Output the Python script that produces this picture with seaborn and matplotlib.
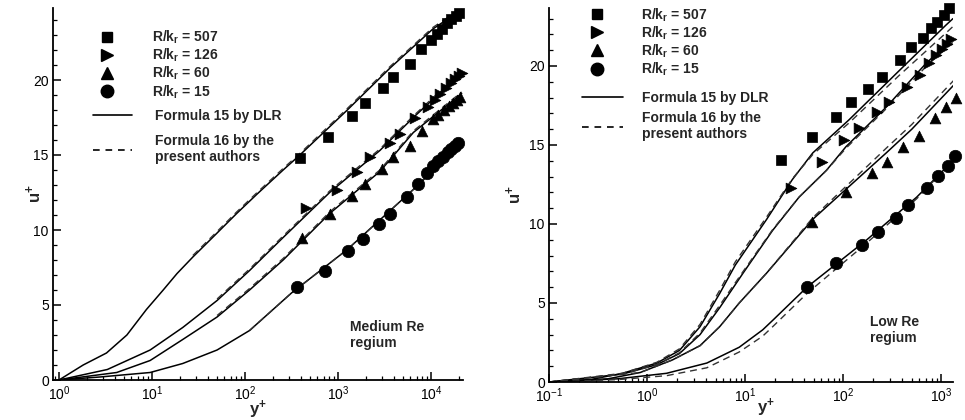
import matplotlib
matplotlib.use("Agg")
import numpy as np
import pandas as pd
import seaborn as sns
import matplotlib.pyplot as plt
from matplotlib.lines import Line2D
from matplotlib.ticker import MultipleLocator, LogLocator, NullFormatter

# ---------------- data ----------------
series_labels = ["R/k$_\\mathbf{r}$ = 507", "R/k$_\\mathbf{r}$ = 126",
                 "R/k$_\\mathbf{r}$ = 60", "R/k$_\\mathbf{r}$ = 15"]
series_markers = ["s", ">", "^", "o"]
line_labels = ["Formula 15 by DLR", "Formula 16 by the\npresent authors"]

# ---- Medium Re regium (left) : measured points ----
med_507_x = [389, 776, 1413, 1950, 3020, 3890, 5890, 7760, 10000, 11480, 13180, 14790, 16600, 18620, 19950]
med_507_y = [14.8, 16.2, 17.6, 18.5, 19.5, 20.2, 21.1, 22.1, 22.7, 23.1, 23.4, 23.8, 24.1, 24.3, 24.5]
med_126_x = [457, 977, 1585, 2188, 3631, 4677, 6761, 9333, 10960, 12590, 14450, 16220, 18200, 19950, 21380]
med_126_y = [11.5, 12.7, 13.9, 14.9, 15.8, 16.4, 17.5, 18.2, 18.7, 19.1, 19.5, 19.8, 20.1, 20.3, 20.5]
med_60_x = [407, 813, 1413, 1950, 2951, 3890, 5890, 7940, 10470, 12020, 13800, 15490, 17380, 19050, 20420]
med_60_y = [9.5, 11.1, 12.3, 13.1, 14.1, 14.9, 15.6, 16.6, 17.4, 17.7, 18.0, 18.3, 18.5, 18.7, 18.9]
med_15_x = [363, 724, 1288, 1862, 2754, 3631, 5495, 7244, 9120, 10470, 12020, 13490, 15140, 16600, 18200, 19500]
med_15_y = [6.2, 7.3, 8.6, 9.4, 10.4, 11.1, 12.2, 13.1, 13.8, 14.3, 14.6, 14.9, 15.2, 15.4, 15.6, 15.8]

# ---- Medium Re regium : Formula 15 (solid) ----
med_f15_507_x = [1.0, 1.82, 3.24, 5.37, 8.71, 13.2, 18.6, 27.5, 50.1, 81.3, 135, 257, 389, 1259, 3631, 10470, 21380]
med_f15_507_y = [0.0, 1.0, 1.8, 3.0, 4.7, 6.0, 7.1, 8.2, 9.8, 11.1, 12.4, 14.0, 15.0, 18.0, 20.8, 23.4, 24.7]
med_f15_126_x = [1.0, 3.31, 9.55, 21.4, 50.1, 112, 257, 813, 2818, 6457, 21380]
med_f15_126_y = [0.0, 0.7, 2.0, 3.5, 5.3, 7.3, 9.5, 12.5, 15.3, 17.5, 20.5]
med_f15_60_x = [1.0, 4.17, 9.55, 21.4, 50.1, 112, 257, 813, 2818, 6457, 21380]
med_f15_60_y = [0.0, 0.5, 1.3, 2.7, 4.2, 6.0, 8.0, 11.1, 13.9, 16.5, 19.1]
med_f15_15_x = [1.0, 2.75, 9.55, 21.4, 50.1, 112, 316, 1259, 6457, 20420]
med_f15_15_y = [0.0, 0.2, 0.5, 1.1, 2.0, 3.3, 5.8, 8.7, 12.7, 15.7]
# ---- Medium Re regium : Formula 16 (dashed) ----
med_f16_507_x = [27.5, 50.1, 81.3, 135, 257, 389, 1259, 3631, 10470, 21380]
med_f16_507_y = [8.3, 9.9, 11.2, 12.5, 14.1, 15.1, 18.1, 20.9, 23.5, 24.8]
med_f16_126_x = [50.1, 112, 257, 813, 2818, 6457, 21380]
med_f16_126_y = [5.4, 7.4, 9.6, 12.6, 15.4, 17.6, 20.6]
med_f16_60_x = [50.1, 112, 257, 813, 2818, 6457, 21380]
med_f16_60_y = [4.3, 6.1, 8.1, 11.2, 14.0, 16.6, 19.2]
med_f16_15_x = [112, 316, 1259, 6457, 20420]
med_f16_15_y = [3.3, 5.8, 8.7, 12.7, 15.7]

# ---- Low Re regium (right) : measured points ----
low_507_x = [23.4, 47.9, 85.1, 120, 178, 251, 380, 490, 646, 794, 912, 1072, 1202]
low_507_y = [14.05, 15.5, 16.8, 17.7, 18.55, 19.3, 20.4, 21.2, 21.8, 22.4, 22.8, 23.2, 23.7]
low_126_x = [29.5, 60.3, 102, 145, 219, 295, 447, 603, 759, 891, 1023, 1148, 1259]
low_126_y = [12.3, 13.9, 15.3, 16.1, 17.1, 17.7, 18.7, 19.4, 20.2, 20.7, 21.1, 21.4, 21.7]
low_60_x = [47.9, 107, 195, 282, 407, 589, 871, 1122, 1413]
low_60_y = [10.1, 12.0, 13.2, 13.9, 14.9, 15.6, 16.7, 17.4, 18.0]
low_15_x = [42.7, 85.1, 155, 224, 347, 457, 708, 933, 1175, 1380]
low_15_y = [6.0, 7.5, 8.7, 9.5, 10.4, 11.2, 12.3, 13.05, 13.65, 14.3]

# ---- Low Re regium : Formula 15 (solid) ----
low_f15_507_x = [0.1, 0.263, 0.562, 1.26, 2.14, 3.47, 5.50, 7.94, 16.6, 30.2, 49.0, 115, 372, 1122, 1318]
low_f15_507_y = [0.0, 0.15, 0.55, 1.2, 2.0, 3.5, 5.6, 7.4, 10.3, 12.8, 14.5, 16.6, 19.7, 22.6, 23.0]
low_f15_126_x = [0.1, 0.562, 1.26, 2.14, 3.47, 5.50, 9.55, 19.1, 35.5, 67.6, 107, 275, 708, 1318]
low_f15_126_y = [0.0, 0.5, 1.1, 1.8, 3.0, 4.7, 6.9, 9.6, 11.7, 13.4, 14.9, 17.4, 20.2, 21.7]
low_f15_60_x = [0.1, 0.398, 0.851, 1.82, 3.47, 5.50, 8.71, 16.6, 49.0, 126, 275, 501, 1445]
low_f15_60_y = [0.0, 0.2, 0.6, 1.4, 2.3, 3.5, 5.0, 6.9, 10.3, 12.6, 14.5, 16.0, 19.0]
low_f15_15_x = [0.1, 0.501, 1.58, 4.07, 8.71, 15.1, 19.1, 42.7, 174, 562, 1413]
low_f15_15_y = [0.0, 0.2, 0.55, 1.2, 2.2, 3.3, 3.9, 6.0, 9.0, 11.7, 14.2]
# ---- Low Re regium : Formula 16 (dashed) ----
low_f16_507_x = [0.1, 0.562, 1.26, 2.14, 3.47, 5.50, 7.94, 16.6, 30.2, 49.0, 115, 372, 1122, 1318]
low_f16_507_y = [0.0, 0.55, 1.25, 2.1, 3.65, 5.8, 7.6, 10.45, 12.85, 14.4, 16.4, 19.4, 22.1, 22.5]
low_f16_126_x = [0.1, 0.562, 1.26, 2.14, 3.47, 5.50, 9.55, 19.1, 35.5, 67.6, 107, 275, 708, 1318]
low_f16_126_y = [0.0, 0.5, 1.1, 1.85, 3.1, 4.85, 7.0, 9.65, 11.7, 13.4, 14.8, 17.3, 20.0, 21.5]
low_f16_60_x = [0.1, 0.851, 1.82, 3.47, 5.50, 8.71, 16.6, 49.0, 126, 275, 501, 1445]
low_f16_60_y = [0.0, 0.6, 1.4, 2.3, 3.5, 5.0, 6.9, 10.4, 12.8, 14.8, 16.3, 19.3]
low_f16_15_x = [0.1, 0.501, 1.58, 4.07, 8.71, 15.1, 19.1, 42.7, 174, 562, 1413]
low_f16_15_y = [0.0, 0.15, 0.4, 0.9, 1.9, 2.9, 3.5, 5.6, 8.8, 11.6, 14.2]

# ---------------- style ----------------
sns.set_theme(style="ticks")
plt.rcParams["font.family"] = ["Liberation Sans", "DejaVu Sans"]
plt.rcParams.update({
    "mathtext.fontset": "custom",
    "mathtext.rm": "Liberation Sans",
    "mathtext.it": "Liberation Sans:italic",
    "mathtext.bf": "Liberation Sans:bold",
    "axes.linewidth": 1.3,
    "axes.edgecolor": "black",
    "xtick.color": "black",
    "ytick.color": "black",
})

FS = 10
DASH = (0, (5, 3.5))

fig = plt.figure(figsize=(9.65, 4.2), dpi=100)
axL = fig.add_axes([53 / 965, 1 - 380 / 420, 410 / 965, 372 / 420])
axR = fig.add_axes([549 / 965, 1 - 382 / 420, 404 / 965, 374 / 420])


def panel(ax, pts, solid, dashed, xlim, ylim, ylabelpad):
    ax.set_xscale("log")
    for (xs, ys) in solid:
        sns.lineplot(x=xs, y=ys, ax=ax, color="black", lw=1.1,
                     estimator=None, sort=False, legend=False, zorder=2)
    for (xs, ys) in dashed:
        sns.lineplot(x=xs, y=ys, ax=ax, color="#333333", lw=1.0,
                     linestyle=DASH, estimator=None, sort=False,
                     legend=False, zorder=2)
    sizes = [55, 60, 60, 80]
    for (xs, ys), m, s in zip(pts, series_markers, sizes):
        sns.scatterplot(x=xs, y=ys, ax=ax, marker=m, s=s, color="black",
                        edgecolor="black", linewidth=0.5, legend=False,
                        clip_on=False, zorder=3)
    ax.set_xlim(*xlim)
    ax.set_ylim(*ylim)
    sns.despine(ax=ax)
    ax.xaxis.set_major_locator(LogLocator(base=10, numticks=20))
    ax.xaxis.set_minor_locator(LogLocator(base=10, subs=np.arange(2, 10), numticks=20))
    ax.xaxis.set_minor_formatter(NullFormatter())
    ax.yaxis.set_major_locator(MultipleLocator(5))
    ax.yaxis.set_minor_locator(MultipleLocator(1))
    ax.tick_params(which="major", direction="in", length=5.5, width=1.1,
                   labelsize=FS, pad=3)
    ax.tick_params(which="minor", direction="in", length=2.8, width=0.9)
    ax.set_xlabel("y$^\\mathbf{+}$", fontsize=12, fontweight="bold", labelpad=-3)
    ax.set_ylabel("u$^\\mathbf{+}$", fontsize=12, fontweight="bold", labelpad=ylabelpad)


def legends(ax, mk_anchor, ln_anchor, ln_hl, ln_pad, ln_spacing):
    mk_handles = [Line2D([], [], ls="none", marker=m, color="black",
                         markersize=ms)
                  for m, ms in zip(series_markers, [7.5, 8, 8, 9])]
    leg1 = ax.legend(mk_handles, series_labels, loc="upper left",
                     bbox_to_anchor=mk_anchor, frameon=False, borderpad=0,
                     borderaxespad=0, handlelength=1.0, handletextpad=2.7,
                     labelspacing=0.05, prop={"weight": "bold", "size": FS})
    ax.add_artist(leg1)
    ln_handles = [Line2D([], [], color="black", lw=1.2),
                  Line2D([], [], color="black", lw=1.2, ls=(0, (4, 3.5)))]
    ax.legend(ln_handles, line_labels, loc="upper left",
              bbox_to_anchor=ln_anchor, frameon=False, borderpad=0,
              borderaxespad=0, handlelength=ln_hl, handletextpad=ln_pad,
              labelspacing=ln_spacing, prop={"weight": "bold", "size": FS})


panel(axL,
      [(med_507_x, med_507_y), (med_126_x, med_126_y), (med_60_x, med_60_y), (med_15_x, med_15_y)],
      [(med_f15_507_x, med_f15_507_y), (med_f15_126_x, med_f15_126_y),
       (med_f15_60_x, med_f15_60_y), (med_f15_15_x, med_f15_15_y)],
      [(med_f16_507_x, med_f16_507_y), (med_f16_126_x, med_f16_126_y),
       (med_f16_60_x, med_f16_60_y), (med_f16_15_x, med_f16_15_y)],
      (0.862, 22080), (0, 24.8), -8)
panel(axR,
      [(low_507_x, low_507_y), (low_126_x, low_126_y), (low_60_x, low_60_y), (low_15_x, low_15_y)],
      [(low_f15_507_x, low_f15_507_y), (low_f15_126_x, low_f15_126_y),
       (low_f15_60_x, low_f15_60_y), (low_f15_15_x, low_f15_15_y)],
      [(low_f16_507_x, low_f16_507_y), (low_f16_126_x, low_f16_126_y),
       (low_f16_60_x, low_f16_60_y), (low_f16_15_x, low_f16_15_y)],
      (0.1, 1318), (0, 23.67), 4)

axR.xaxis.set_label_coords((766 - 549) / 404, -0.04)

legends(axL, (0.115, 0.944), (0.098, 0.728), 2.8, 1.65, 0.8)
legends(axR, (0.101, 1.005), (0.082, 0.778), 2.95, 1.37, 0.45)

axL.text(0.724, 0.121, "Medium Re\nregium", transform=axL.transAxes,
         ha="left", va="center", fontsize=FS, fontweight="bold", linespacing=1.1)
axR.text(0.795, 0.139, "Low Re\nregium", transform=axR.transAxes,
         ha="left", va="center", fontsize=FS, fontweight="bold", linespacing=1.1)

fig.savefig("out.png", dpi=100)
